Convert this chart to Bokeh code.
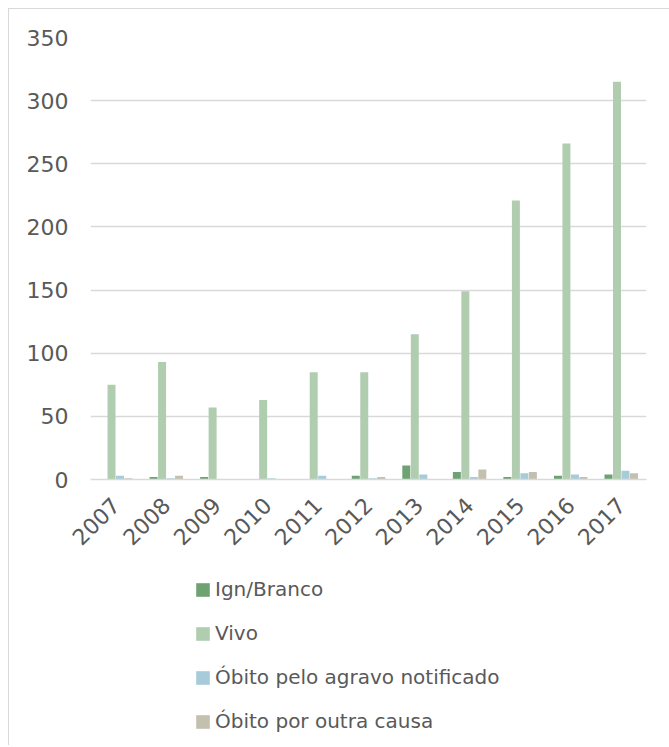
from bokeh.plotting import figure
from bokeh.models import ColumnDataSource, FactorRange, Legend, LegendItem
from bokeh.layouts import column
from bokeh.transform import dodge
from bokeh.embed import file_html
from bokeh.resources import INLINE

years = ["2007", "2008", "2009", "2010", "2011", "2012", "2013", "2014", "2015", "2016", "2017"]
ign_branco = [0, 2, 2, 0, 0, 3, 11, 6, 2, 3, 4]
vivo = [75, 93, 57, 63, 85, 85, 115, 149, 221, 266, 315]
obito_agravo = [3, 1, 0, 1, 3, 1, 4, 2, 5, 4, 7]
obito_outra = [1, 3, 0, 0, 0, 2, 0, 8, 6, 2, 5]
series_names = ["Ign/Branco", "Vivo", "Óbito pelo agravo notificado", "Óbito por outra causa"]
colors = ["#6fa273", "#b0cdb0", "#a7cbd8", "#c3c0b0"]
y_ticks = [0, 50, 100, 150, 200, 250, 300, 350]

src = ColumnDataSource(dict(years=years, ign=ign_branco, vivo=vivo, agr=obito_agravo, out=obito_outra))
cols = ["ign", "vivo", "agr", "out"]
offsets = [-0.252, -0.084, 0.084, 0.252]

# main chart
p = figure(x_range=FactorRange(*years), y_range=(0, 350), width=660, height=551,
           output_backend="svg", toolbar_location=None,
           min_border_left=81, min_border_right=23, min_border_top=28, min_border_bottom=81)
p.outline_line_color = None
for off, c, col in zip(offsets, cols, colors):
    p.vbar(x=dodge("years", off, range=p.x_range), top=c, width=0.158, source=src,
           fill_color=col, line_color=None)

p.yaxis.ticker = y_ticks
p.yaxis.axis_line_color = None
p.yaxis.major_tick_line_color = None
p.yaxis.minor_tick_line_color = None
p.yaxis.major_label_text_font = "DejaVu Sans"
p.yaxis.major_label_text_font_size = "22px"
p.yaxis.major_label_text_color = "#595959"
p.yaxis.major_label_standoff = 16

p.xaxis.axis_line_color = "#d9d9d9"
p.xaxis.axis_line_width = 1.5
p.xaxis.major_tick_line_color = None
p.xaxis.minor_tick_line_color = None
p.xaxis.major_label_orientation = 0.785398
p.xaxis.major_label_text_font = "DejaVu Sans"
p.xaxis.major_label_text_font_size = "22px"
p.xaxis.major_label_text_color = "#595959"
p.xaxis.major_label_standoff = 16

p.xgrid.grid_line_color = None
p.ygrid.grid_line_color = "#d9d9d9"
p.ygrid.grid_line_width = 1.5

# legend panel (same data, renderers hidden; only the legend is shown)
q = figure(x_range=FactorRange(*years), y_range=(0, 350), width=660, height=185,
           output_backend="svg", toolbar_location=None,
           x_axis_type=None, y_axis_type=None, min_border=0)
q.outline_line_color = None
q.xgrid.grid_line_color = None
q.ygrid.grid_line_color = None
rs = []
for off, c, col in zip(offsets, cols, colors):
    r = q.vbar(x=dodge("years", off, range=q.x_range), top=c, width=0.158, source=src,
               fill_color=col, line_color=None, visible=False)
    rs.append(r)

legend = Legend(items=[LegendItem(label=n, renderers=[r]) for n, r in zip(series_names, rs)],
                location=(104, 12), orientation="vertical", margin=0,
                glyph_width=17, glyph_height=17, label_height=16, spacing=20,
                label_standoff=4, padding=0,
                border_line_color=None, background_fill_alpha=0,
                label_text_font="DejaVu Sans", label_text_font_size="20px",
                label_text_color="#595959")
q.add_layout(legend, "center")

layout = column(p, q, spacing=0,
                styles={"margin-left": "8px", "margin-top": "8px",
                        "border-left": "1px solid #d9d9d9", "border-top": "1px solid #d9d9d9"})

open("out.html", "w").write(file_html(layout, INLINE))
